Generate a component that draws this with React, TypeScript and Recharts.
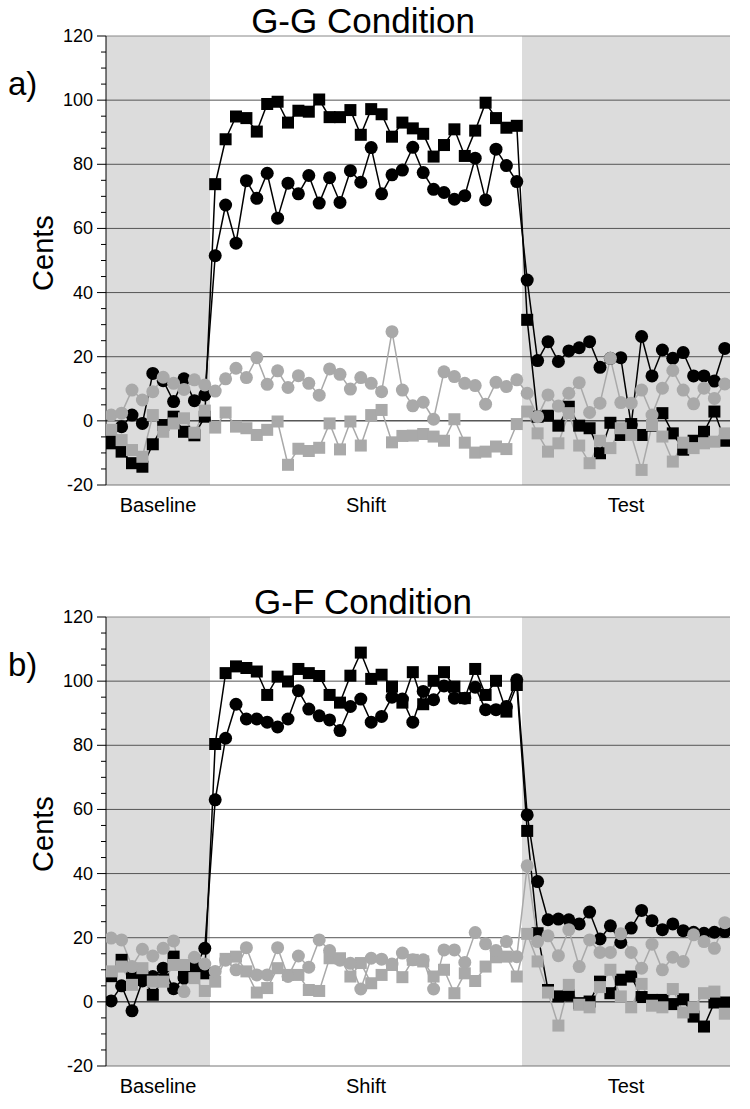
import React from "react";
import {
  LineChart,
  Line,
  XAxis,
  YAxis,
  ReferenceArea,
  ReferenceLine,
} from "recharts";

// trial numbers: 10 baseline, 30 shift, 20 test
const trials = Array.from({ length: 60 }, (_, i) => i + 1);
const phaseLabels = ["Baseline", "Shift", "Test"];
const phaseTicks = [5.5, 25.5, 50.5];
const yTicks = [-20, -15, -10, -5, 0, 5, 10, 15, 20, 25, 30, 35, 40, 45, 50, 55, 60, 65, 70, 75, 80, 85, 90, 95, 100, 105, 110, 115, 120];
const gridValues = [0, 20, 40, 60, 80, 100, 120];

// a) G-G condition
const aBlackSq = [
  -7.0, -9.6, -13.2, -14.3, -7.3, -1.3, 1.3, -3.4, -4.5, 1.3,
  73.8, 87.8, 94.9, 94.4, 90.2, 98.8, 99.5, 93.0, 96.7, 96.4,
  100.2, 94.7, 94.7, 96.9, 89.2, 97.2, 95.6, 88.6, 93.0, 91.2,
  89.5, 82.4, 86.0, 90.9, 82.6, 90.5, 99.2, 94.4, 91.4, 92.0,
  31.5, 1.3, 1.6, -1.5, 4.4, -1.5, -2.3, -10.1, -0.6, -4.4,
  -1.0, -4.4, -1.5, 2.4, -3.9, -9.0, -6.2, -3.4, 2.9, -6.2,
];
const aBlackCirc = [
  -5, -1.8, 1.8, -0.8, 14.8, 12.5, 6.0, 13.1, 6.3, 8.1,
  51.5, 67.3, 55.4, 74.9, 69.4, 77.2, 63.2, 74.1, 70.8, 76.5,
  67.9, 75.8, 68.1, 78.0, 74.4, 85.2, 70.8, 76.7, 78.2, 85.3,
  77.4, 72.2, 71.2, 69.1, 70.2, 81.9, 68.9, 84.7, 79.6, 74.6,
  43.9, 18.8, 24.7, 18.5, 21.8, 22.8, 24.7, 16.7, 19.5, 19.7,
  -1.3, 26.3, 14.0, 22.1, 19.5, 21.3, 14.0, 14.0, 12.4, 22.6,
];
const aGraySq = [
  -2.8, -6.0, -9.1, -11.2, 1.8, -3.4, -0.8, 0.8, -3.7, 3.2,
  -2.1, 2.6, -1.8, -2.3, -4.4, -2.8, -0.2, -13.7, -8.7, -9.4,
  -8.4, -0.8, -8.9, -0.2, -7.7, 1.8, 3.4, -6.7, -4.7, -4.6,
  -4.1, -4.9, -6.2, 0.5, -6.8, -9.9, -9.6, -8.0, -8.8, -1.0,
  2.9, -3.9, -9.6, -7.0, 2.4, -7.7, -13.2, -6.2, -8.5, -2.3,
  -4.4, -15.3, -1.3, -4.9, -12.7, -6.8, -8.5, -7.0, -6.5, -3.9,
];
const aGrayCirc = [
  1.8, 2.4, 9.6, 6.5, 9.1, 13.6, 11.7, 9.8, 12.8, 11.2,
  9.3, 13.1, 16.4, 13.5, 19.7, 11.4, 15.6, 10.4, 14.1, 11.7,
  8.0, 16.2, 14.5, 9.9, 13.5, 11.7, 9.1, 27.8, 9.6, 4.7,
  5.8, 0.5, 15.3, 13.8, 11.7, 11.0, 5.2, 12.0, 10.7, 12.8,
  8.6, 1.3, 8.1, 4.6, 8.6, 11.9, 2.6, 5.5, 19.5, 5.7,
  5.5, 9.6, 1.8, 10.2, 15.7, 9.6, 5.3, 10.2, 7.0, 11.5,
];

// b) G-F condition
const bBlackSq = [
  8, 13.1, 8.4, 8, 2.2, 7, 14.1, 8.4, 10.5, 8.9,
  80.4, 102.5, 104.6, 104.1, 103.0, 95.7, 101.4, 99.9, 103.8, 102.5,
  101.6, 95.7, 93.3, 101.7, 108.9, 100.7, 102.0, 98.3, 93.3, 102.8,
  92.8, 100.1, 102.8, 98.3, 94.7, 103.8, 95.7, 100.1, 90.5, 98.8,
  53.3, 21.4, 3.7, 1.7, 2.0, -0.4, 0.1, 6.3, 2.7, 6.9,
  7.9, 1.5, 0.6, 0.6, -0.7, 0.8, -4.6, -7.7, -0.2, -0.2,
];
const bBlackCirc = [
  0.3, 5.0, -2.8, 6.5, 7.9, 10.5, 4.1, 7.4, 10.3, 16.7,
  63, 82.2, 92.8, 88.2, 88.2, 87.2, 85.7, 88.2, 97.0, 91.3,
  89.2, 87.9, 84.6, 92.1, 94.4, 87.2, 89.0, 95.0, 94.4, 87.2,
  96.8, 94.2, 98.5, 94.7, 94.7, 98.1, 91.1, 91.1, 92.1, 100.4,
  58.3, 37.5, 25.6, 25.8, 25.6, 24.3, 28.0, 19.6, 23.7, 18.5,
  23.0, 28.5, 25.3, 22.5, 24.3, 22.2, 21.7, 21.4, 21.7, 21.9,
];
const bGraySq = [
  9.5, 11.0, 5.3, 10.5, 6.3, 6.3, 11.5, 11.5, 7.4, 3.4,
  6.3, 13.4, 14.1, 9.5, 2.9, 4.3, 10.5, 8.4, 8.4, 3.7,
  3.4, 13.6, 13.6, 7.9, 12.1, 5.8, 8.4, 11.5, 7.7, 13.1,
  12.6, 7.9, 10.0, 2.7, 8.9, 6.5, 11.0, 13.9, 14.1, 7.9,
  21.2, 12.6, 2.9, -7.4, 5.3, -0.9, -1.7, 4.6, 10.0, 1.7,
  -1.7, 5.6, -1.2, -1.7, 4.0, -3.3, -1.7, 2.7, 3.2, -3.7,
];
const bGrayCirc = [
  19.9, 19.3, 11.0, 16.4, 14.3, 16.7, 19.0, 3.2, 13.9, 11.8,
  9.5, 13, 10.0, 16.9, 8.4, 8.4, 16.9, 7.9, 14.3, 10.8,
  19.3, 16.0, 13, 12, 4.0, 13.6, 13.3, 11.8, 15.2, 13.1,
  13.1, 4.0, 16.2, 16.2, 12.3, 21.6, 18.1, 16, 18.8, 14.1,
  42.4, 18.8, 20.6, 14.4, 22.5, 11.0, 19.3, 15.4, 15.4, 21.2,
  15.4, 10.5, 18.0, 10.0, 13.9, 12.6, 20.9, 18.8, 16.7, 24.7,
];

const FONT = '"Liberation Sans", Arial, Helvetica, sans-serif';
const BLACK = "#000000";
const GRAY = "#a9a9a9";

function buildRows(bs: number[], bc: number[], gs: number[], gc: number[]) {
  return trials.map((t, i) => ({ trial: t, bs: bs[i], bc: bc[i], gs: gs[i], gc: gc[i] }));
}

const squareDot = (color: string) => (props: any) => {
  const { cx, cy, index } = props;
  if (cx == null || cy == null) return <g key={index} />;
  return <rect key={index} x={cx - 6} y={cy - 6} width={12} height={12} fill={color} />;
};

const circleDot = (color: string) => (props: any) => {
  const { cx, cy, index } = props;
  if (cx == null || cy == null) return <g key={index} />;
  return <circle key={index} cx={cx} cy={cy} r={6.5} fill={color} />;
};

const YTick = (props: any) => {
  const { x, y, payload } = props;
  const v = payload.value;
  const major = v % 20 === 0;
  return (
    <g>
      <line x1={x - (major ? 9 : 5)} x2={x} y1={y} y2={y} stroke="#000" strokeWidth={1} />
      {major && (
        <text x={x - 13} y={y} dy={6} textAnchor="end" fontSize={18} fontFamily={FONT} fill="#000">
          {v}
        </text>
      )}
    </g>
  );
};

const XTick = (props: any) => {
  const { x, y, index } = props;
  return (
    <text x={x} y={y + 27} textAnchor="middle" fontSize={20} fontFamily={FONT} fill="#000">
      {phaseLabels[index]}
    </text>
  );
};

function Panel(props: any) {
  const { title, letter, rows, height } = props;
  return (
    <div style={{ position: "relative", width: 750, height }}>
      <LineChart
        width={750}
        height={height}
        data={rows}
        margin={{ top: 36, right: 20, left: 0, bottom: height - 36 - 449 - 30 }}
      >
        <ReferenceArea x1={0.5} x2={10.5} y1={-20} y2={120} fill="#dcdcdc" fillOpacity={1} stroke="none" />
        <ReferenceArea x1={40.5} x2={60.5} y1={-20} y2={120} fill="#dcdcdc" fillOpacity={1} stroke="none" />
        {gridValues.map((v) => (
          <ReferenceLine
            key={v}
            y={v}
            stroke={v === 0 ? "#000" : v === 120 ? "#888" : "#555"}
            strokeWidth={1}
          />
        ))}
        <XAxis
          type="number"
          dataKey="trial"
          domain={[0.5, 60.5]}
          ticks={phaseTicks}
          interval={0}
          tickLine={false}
          tickSize={0}
          tickMargin={0}
          axisLine={{ stroke: "#777" }}
          tick={XTick}
          height={30}
          allowDataOverflow
        />
        <YAxis
          type="number"
          domain={[-20, 120]}
          ticks={yTicks}
          interval={0}
          tickLine={false}
          tickSize={0}
          tickMargin={0}
          axisLine={{ stroke: "#000" }}
          tick={YTick}
          width={106}
          allowDataOverflow
        />
        <Line dataKey="bs" stroke={BLACK} strokeWidth={1.5} dot={squareDot(BLACK)} activeDot={false} isAnimationActive={false} />
        <Line dataKey="bc" stroke={BLACK} strokeWidth={1.5} dot={circleDot(BLACK)} activeDot={false} isAnimationActive={false} />
        <Line dataKey="gs" stroke={GRAY} strokeWidth={1.5} dot={squareDot(GRAY)} activeDot={false} isAnimationActive={false} />
        <Line dataKey="gc" stroke={GRAY} strokeWidth={1.5} dot={circleDot(GRAY)} activeDot={false} isAnimationActive={false} />
      </LineChart>
      <svg
        width={750}
        height={height}
        style={{ position: "absolute", left: 0, top: 0, pointerEvents: "none" }}
      >
        <text x={363} y={33} textAnchor="middle" fontSize={35} fontFamily={FONT} fill="#000">
          {title}
        </text>
        <text x={8} y={95} fontSize={33} fontFamily={FONT} fill="#000">
          {letter}
        </text>
        <text
          x={53}
          y={253}
          transform="rotate(-90 53 253)"
          textAnchor="middle"
          fontSize={29}
          fontFamily={FONT}
          fill="#000"
        >
          Cents
        </text>
      </svg>
    </div>
  );
}

export default function App() {
  const rowsA = buildRows(aBlackSq, aBlackCirc, aGraySq, aGrayCirc);
  const rowsB = buildRows(bBlackSq, bBlackCirc, bGraySq, bGrayCirc);
  return (
    <div style={{ position: "absolute", left: 0, top: 0, width: 750, background: "#fff", fontFamily: FONT }}>
      <Panel title="G-G Condition" letter="a)" rows={rowsA} height={581} />
      <Panel title="G-F Condition" letter="b)" rows={rowsB} height={528} />
    </div>
  );
}
